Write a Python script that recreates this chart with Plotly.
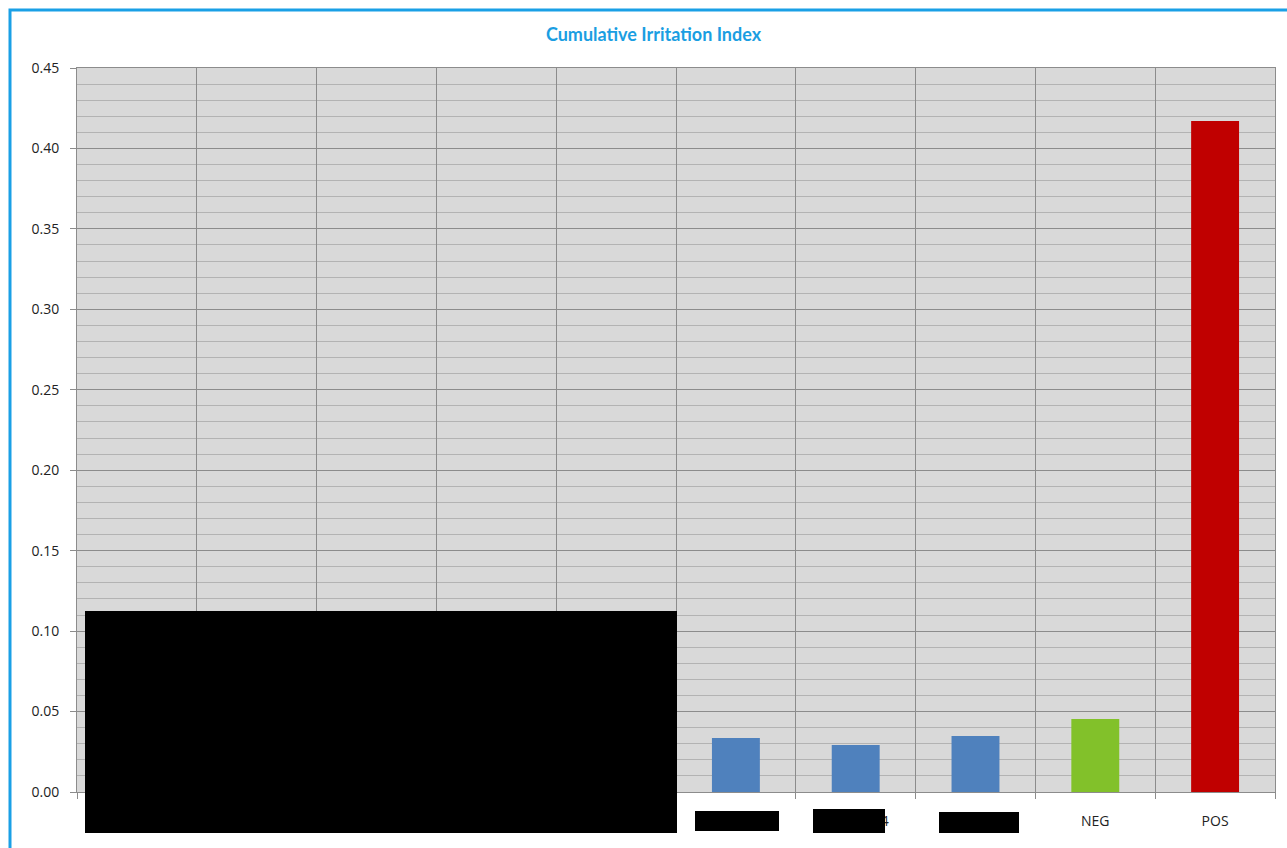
import plotly.graph_objects as go

# Category labels along the x axis (first entries are redacted in the report)
categories = ["Sample 1", "Sample 2", "Sample 3", "Sample 5", "Sample 6",
              "Sample 7", "Formula 4", "Sample 8", "NEG", "POS"]
# Cumulative irritation index per sample (redacted samples left empty)
index_values = [None, None, None, None, None, 0.0336, 0.0292, 0.0348, 0.0454, 0.417]
bar_colors = ["#4f81bd"] * 8 + ["#82c12a", "#c00000"]

W, H = 1287, 848
ML, MR, MT, MB = 77, 12, 68, 56
PW, PH = W - ML - MR, H - MT - MB


def px_x(px):
    return (px - ML) / PW


def px_y(py):
    return 1 - (py - MT) / PH


fig = go.Figure(go.Bar(
    x=categories, y=index_values,
    marker=dict(color=bar_colors, line=dict(width=0)),
    width=0.4,
))

grid_major = "#8c8c8c"
grid_minor = "#b3b3b3"

fig.update_layout(
    width=W, height=H,
    margin=dict(l=ML, r=MR, t=MT, b=MB),
    paper_bgcolor="white",
    plot_bgcolor="#d9d9d9",
    showlegend=False,
    title=dict(text="<b>Cumulative Irritation Index</b>", x=653.5 / W, xanchor="center",
               y=1 - 35 / H, yanchor="middle",
               font=dict(family="Lato", size=18, color="#1a9ee2")),
    font=dict(family="Open Sans", size=14, color="#222222"),
)
fig.update_xaxes(
    type="category", tickson="boundaries", showgrid=True, gridcolor=grid_major,
    gridwidth=1, ticks="outside", ticklen=6, tickcolor=grid_major,
    showline=True, linecolor=grid_major, mirror=True,
    ticklabelstandoff=16, tickfont=dict(size=14),
)
fig.update_yaxes(
    range=[0, 0.45], dtick=0.05, tickformat=".2f", showgrid=True,
    gridcolor=grid_major, gridwidth=1, zeroline=False,
    ticks="outside", ticklen=6, tickcolor=grid_major,
    showline=True, linecolor=grid_major, mirror=True,
    minor=dict(dtick=0.01, showgrid=True, gridcolor=grid_minor, gridwidth=1),
    ticklabelstandoff=8, tickfont=dict(size=14),
)

shapes = []
# chart frame
shapes.append(dict(type="rect", xref="paper", yref="paper",
                   x0=px_x(10), x1=px_x(W + 20), y0=px_y(10), y1=px_y(H + 20),
                   line=dict(color="#1aa0e6", width=3), fillcolor="rgba(0,0,0,0)"))
# redaction boxes
for (x0, y0, x1, y1) in [(85, 611, 677, 833), (695, 811, 779, 831),
                         (813, 809, 885, 833), (939, 812, 1019, 833)]:
    shapes.append(dict(type="rect", xref="paper", yref="paper",
                       x0=px_x(x0), x1=px_x(x1), y0=px_y(y1), y1=px_y(y0),
                       line=dict(width=0), fillcolor="black", layer="above"))
fig.update_layout(shapes=shapes)

fig.write_html("out.html")
